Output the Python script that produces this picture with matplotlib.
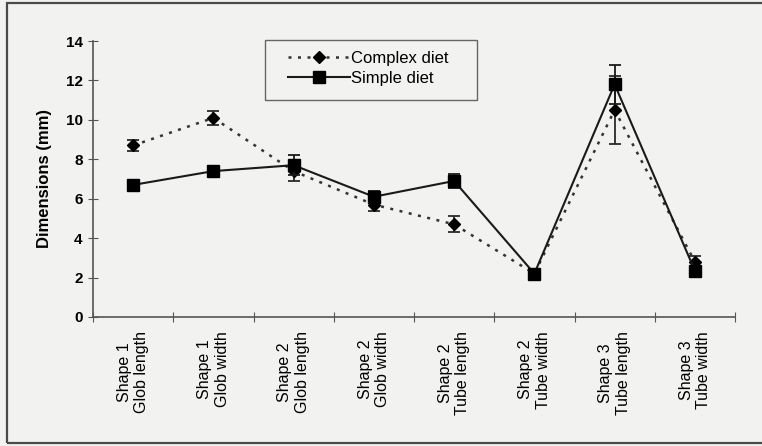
import numpy as np
import matplotlib.pyplot as plt
from matplotlib.patches import Rectangle
from matplotlib.lines import Line2D

plt.rcParams['font.family'] = ['Liberation Sans', 'DejaVu Sans']

categories = ['Shape 1\nGlob length', 'Shape 1\nGlob width', 'Shape 2\nGlob length',
              'Shape 2\nGlob width', 'Shape 2\nTube length', 'Shape 2\nTube width',
              'Shape 3\nTube length', 'Shape 3\nTube width']
complex_mean = [8.7, 10.1, 7.4, 5.7, 4.7, 2.2, 10.5, 2.8]
complex_err = [0.3, 0.35, 0.5, 0.3, 0.4, 0.15, 1.7, 0.3]
simple_mean = [6.7, 7.4, 7.7, 6.1, 6.9, 2.2, 11.8, 2.35]
simple_err = [0.15, 0.2, 0.5, 0.3, 0.35, 0.15, 1.0, 0.2]

W, H = 762, 446
bg = '#f2f2f0'
fig = plt.figure(figsize=(W / 100, H / 100), dpi=100, facecolor=bg)
# outer chart frame (right edge runs off the image)
fig.patches.append(Rectangle((7 / W, 3 / H), 1.0, 440 / H, transform=fig.transFigure,
                             fill=False, edgecolor='#4a4a4a', linewidth=1.6, zorder=0))

ax = fig.add_axes([93 / W, 1 - 317 / H, (735 - 93) / W, (317 - 41) / H])
ax.set_facecolor(bg)

x = np.arange(len(categories)) + 0.5
dotted = (0, (1.2, 2.6))

ax.errorbar(x, complex_mean, yerr=complex_err, color='#333333', linestyle=dotted,
            linewidth=1.8, marker='D', markersize=6, markerfacecolor='black',
            markeredgecolor='black', ecolor='#2a2a2a', elinewidth=1.3, capsize=4,
            capthick=1.3, zorder=3)
ax.errorbar(x, simple_mean, yerr=simple_err, color='#1a1a1a', linestyle='-',
            linewidth=1.5, marker='s', markersize=8, markerfacecolor='black',
            markeredgecolor='black', ecolor='#1a1a1a', elinewidth=1.3, capsize=4,
            capthick=1.3, zorder=4)

ax.set_xlim(0, len(categories))
ax.set_ylim(0, 14)
ax.set_yticks(np.arange(0, 15, 2))
ax.set_xticks(np.arange(len(categories) + 1))
ax.set_xticklabels([])
ax.set_xticks(x, minor=True)
ax.set_xticklabels(categories, minor=True, rotation=90, fontsize=11.5,
                   va='top', ha='center', multialignment='center')
ax.tick_params(axis='x', which='minor', length=0, pad=10)
ax.tick_params(axis='x', which='major', direction='inout', length=7, color='#555555')
ax.tick_params(axis='y', direction='inout', length=7, color='#555555', labelsize=11, pad=4)
for lab in ax.get_yticklabels():
    lab.set_fontweight('bold')

for side in ['top', 'right']:
    ax.spines[side].set_visible(False)
for side in ['left', 'bottom']:
    ax.spines[side].set_color('#555555')
    ax.spines[side].set_linewidth(1.2)

ax.set_ylabel('Dimensions (mm)', fontsize=12, fontweight='bold', labelpad=10)

# legend: plain line+marker handles inside a square box
handles = [Line2D([], [], color='#333333', linestyle=dotted, linewidth=1.8, marker='D',
                  markersize=6, markerfacecolor='black', markeredgecolor='black'),
           Line2D([], [], color='#1a1a1a', linestyle='-', linewidth=1.5, marker='s',
                  markersize=8, markerfacecolor='black', markeredgecolor='black')]
fig.patches.append(Rectangle((265 / W, 1 - 100 / H), (477 - 265) / W, 60 / H,
                             transform=fig.transFigure, facecolor=bg,
                             edgecolor='#666666', linewidth=1.0, zorder=1))
leg = fig.legend(handles, ['Complex diet', 'Simple diet'], loc='upper left',
                 bbox_to_anchor=(288 / W, 1 - 51 / H), fontsize=12, frameon=False,
                 handlelength=3.7, handletextpad=0.1, labelspacing=0.3,
                 borderpad=0, borderaxespad=0)

fig.savefig('out.png', dpi=100, facecolor=bg)
